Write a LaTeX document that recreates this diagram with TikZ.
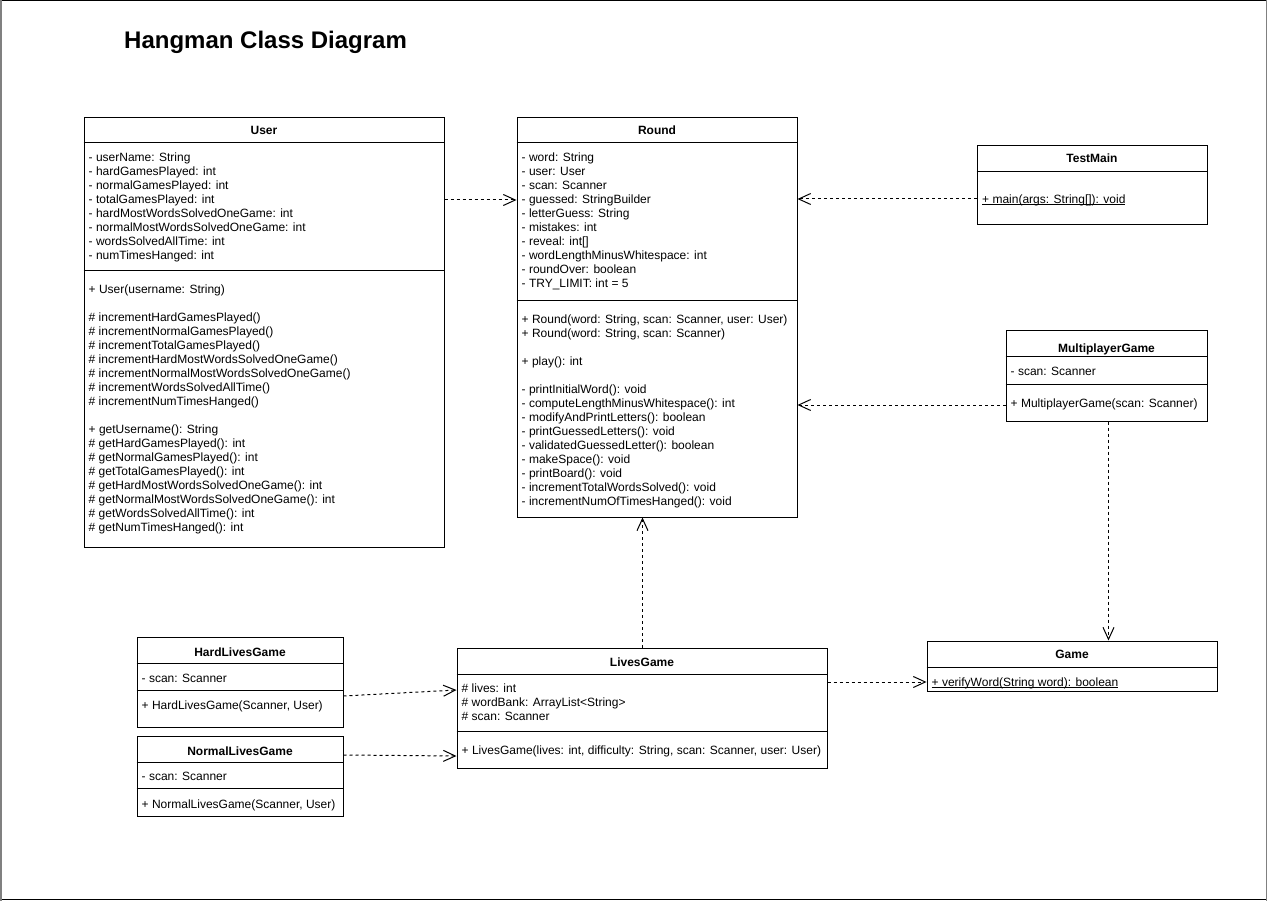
\documentclass[tikz,border=0pt]{standalone}
\usepackage{fontspec}
\setmainfont{Liberation Sans}
\usetikzlibrary{arrows.meta,fit}

% strut that fixes the first baseline 10pt below a member block's top
\newcommand{\fl}{\rule{0pt}{10pt}}
% underline drawn just under the baseline (static members)
\newsavebox{\ulbox}
\newcommand{\ulin}[1]{\sbox{\ulbox}{#1}\rlap{\rule[-1.6pt]{\wd\ulbox}{0.8pt}}\usebox{\ulbox}}
% a class rectangle from its top-left to its bottom-right corner
\newcommand{\umlclass}[5]{\node[classbox, fit={(#2,#3) (#4,#5)}] (#1) {};}
% a horizontal compartment line across a class at height #2
\newcommand{\compart}[2]{\draw[sepline] (#1.west |- 0,#2) -- (#1.east |- 0,#2);}

\begin{document}
\begin{tikzpicture}[x=1pt, y=-1pt,
  classbox/.style={draw=black, line width=1pt, inner sep=0pt, rectangle},
  sepline/.style={draw=black, line width=1pt},
  cname/.style={anchor=base, inner sep=0pt, font=\fontsize{12}{14}\selectfont\bfseries},
  members/.style={anchor=north west, inner sep=0pt, align=left, font=\fontsize{12}{14}\selectfont},
  dep/.style={draw=black, line width=1pt, dash pattern=on 3pt off 3pt,
    -{Straight Barb[length=12pt, width=11pt, line width=1pt]}},
  heading/.style={anchor=base west, inner sep=0pt, font=\fontsize{24}{28}\selectfont\bfseries}
]
\useasboundingbox (0,0) rectangle (1267,901);
\fill[white] (0,0) rectangle (1267,901);

% page frame
\draw[black, line width=1.5pt] (0,0.75) -- (1267,0.75);
\draw[black, line width=1.5pt] (0,899.5) -- (1267,899.5);
\draw[gray, line width=2pt] (1,0) -- (1,901);
\draw[gray, line width=1pt] (1266,0) -- (1266,901);

\node[heading] (title) at (124,49) {Hangman Class Diagram};

% ---------------- User ----------------
\umlclass{user}{84}{118}{444}{547}
\compart{user}{143}
\compart{user}{271}
\node[cname] (usertitle) at (264,135) {User};
\node[members] (userattr) at (88.5,151) {\fl- userName: String\\
- hardGamesPlayed: int\\
- normalGamesPlayed: int\\
- totalGamesPlayed: int\\
- hardMostWordsSolvedOneGame: int\\
- normalMostWordsSolvedOneGame: int\\
- wordsSolvedAllTime: int\\
- numTimesHanged: int};
\node[members] (userops) at (88.5,283) {\fl+ User(username: String)\\[14pt]
\# incrementHardGamesPlayed()\\
\# incrementNormalGamesPlayed()\\
\# incrementTotalGamesPlayed()\\
\# incrementHardMostWordsSolvedOneGame()\\
\# incrementNormalMostWordsSolvedOneGame()\\
\# incrementWordsSolvedAllTime()\\
\# incrementNumTimesHanged()\\[14pt]
+ getUsername(): String\\
\# getHardGamesPlayed(): int\\
\# getNormalGamesPlayed(): int\\
\# getTotalGamesPlayed(): int\\
\# getHardMostWordsSolvedOneGame(): int\\
\# getNormalMostWordsSolvedOneGame(): int\\
\# getWordsSolvedAllTime(): int\\
\# getNumTimesHanged(): int};

% ---------------- Round ----------------
\umlclass{round}{517}{118}{797}{517}
\compart{round}{143}
\compart{round}{301}
\node[cname] (roundtitle) at (657,135) {Round};
\node[members] (roundattr) at (521.5,151) {\fl- word: String\\
- user: User\\
- scan: Scanner\\
- guessed: StringBuilder\\
- letterGuess: String\\
- mistakes: int\\
- reveal: int[]\\
- wordLengthMinusWhitespace: int\\
- roundOver: boolean\\
- TRY\_LIMIT: int = 5};
\node[members] (roundops) at (521.5,313) {\fl+ Round(word: String, scan: Scanner, user: User)\\
+ Round(word: String, scan: Scanner)\\[14pt]
+ play(): int\\[14pt]
- printInitialWord(): void\\
- computeLengthMinusWhitespace(): int\\
- modifyAndPrintLetters(): boolean\\
- printGuessedLetters(): void\\
- validatedGuessedLetter(): boolean\\
- makeSpace(): void\\
- printBoard(): void\\
- incrementTotalWordsSolved(): void\\
- incrementNumOfTimesHanged(): void};

% ---------------- TestMain ----------------
\umlclass{testmain}{977}{146}{1207}{225}
\compart{testmain}{172}
\node[cname] (testmaintitle) at (1092,163) {TestMain};
\node[members] (testmainops) at (982,193) {\fl\ulin{+ main(args: String[]): void}};

% ---------------- MultiplayerGame ----------------
\umlclass{multi}{1006}{331}{1207}{421}
\compart{multi}{357}
\compart{multi}{385}
\node[cname] (multititle) at (1106.5,353) {MultiplayerGame};
\node[members] (multiattr) at (1010.5,365) {\fl- scan: Scanner};
\node[members] (multiops) at (1010.5,397) {\fl+ MultiplayerGame(scan: Scanner)};

% ---------------- Game ----------------
\umlclass{game}{927}{641}{1217}{691}
\compart{game}{667}
\node[cname] (gametitle) at (1072,658) {Game};
\node[members] (gameops) at (931.5,676) {\fl\ulin{+ verifyWord(String word): boolean}};

% ---------------- LivesGame ----------------
\umlclass{lives}{457}{648}{827}{768}
\compart{lives}{674}
\compart{lives}{731}
\node[cname] (livestitle) at (642,666) {LivesGame};
\node[members] (livesattr) at (461.5,682) {\fl\# lives: int\\
\# wordBank: ArrayList<String>\\
\# scan: Scanner};
\node[members] (livesops) at (461.5,744) {\fl+ LivesGame(lives: int, difficulty: String, scan: Scanner, user: User)};

% ---------------- HardLivesGame ----------------
\umlclass{hard}{137}{637}{343}{727}
\compart{hard}{663}
\compart{hard}{690}
\node[cname] (hardtitle) at (240,656) {HardLivesGame};
\node[members] (hardattr) at (141.5,672) {\fl- scan: Scanner};
\node[members] (hardops) at (141.5,699) {\fl+ HardLivesGame(Scanner, User)};

% ---------------- NormalLivesGame ----------------
\umlclass{normal}{137}{736}{343}{816}
\compart{normal}{762}
\compart{normal}{788}
\node[cname] (normaltitle) at (240,755.5) {NormalLivesGame};
\node[members] (normalattr) at (141.5,770) {\fl- scan: Scanner};
\node[members] (normalops) at (141.5,798) {\fl+ NormalLivesGame(Scanner, User)};

% ---------------- dependencies ----------------
\draw[dep] (user.east |- 0,200) -- (round.west |- 0,200);
\draw[dep] (testmain.west |- 0,199) -- (round.east |- 0,199);
\draw[dep] (multi.west |- 0,405) -- (round.east |- 0,405);
\draw[dep] (multi.south -| 1108.5,0) -- (game.north -| 1108.5,0);
\draw[dep] (lives.north -| 642.5,0) -- (round.south -| 642.5,0);
\draw[dep] (lives.east |- 0,682) -- (game.west |- 0,682);
\draw[dep] (hard.east |- 0,696) -- (lives.west |- 0,690);
\draw[dep] (normal.east |- 0,755) -- (lives.west |- 0,756);
\end{tikzpicture}
\end{document}
